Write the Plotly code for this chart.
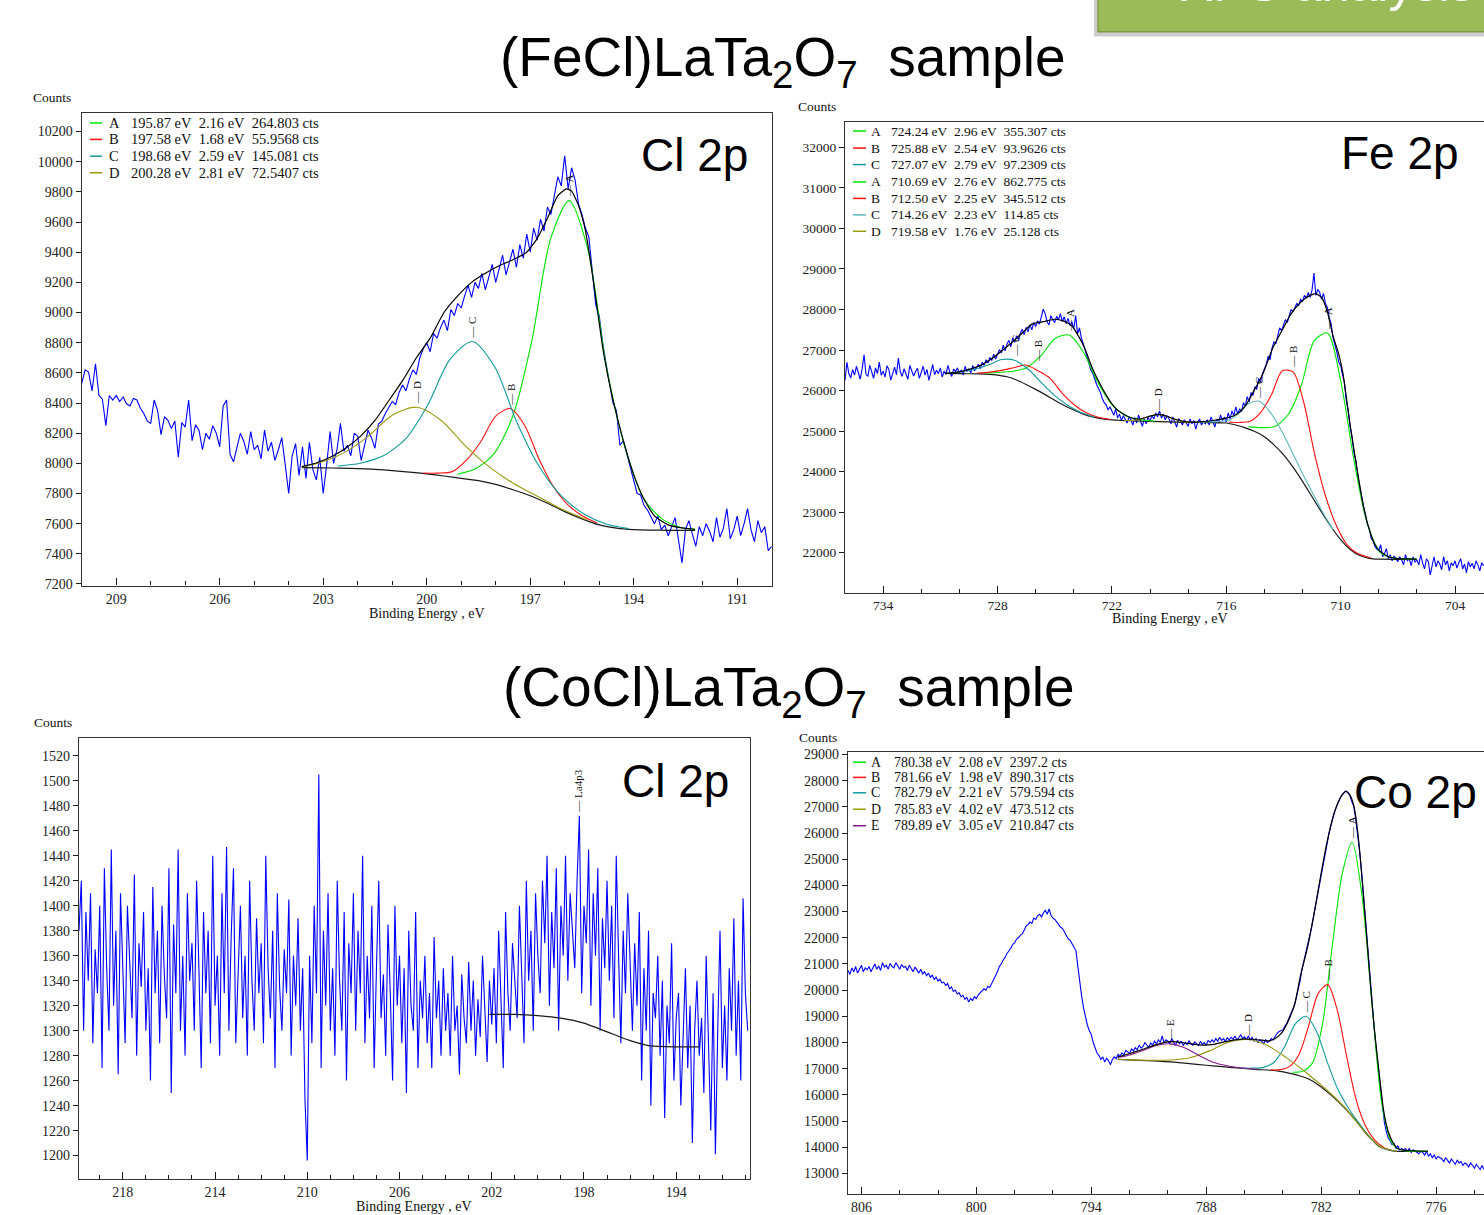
import plotly.graph_objects as go

W, H = 1484, 1215

# ---------------- (FeCl)LaTa2O7 : Cl 2p ----------------
cl_fe_be_start, cl_fe_be_step = 210.0, -0.1
cl_fe_counts = [
    8530, 8620, 8605, 8480, 8660, 8450, 8425, 8250, 8450, 8420,
    8450, 8410, 8440, 8395, 8380, 8430, 8420, 8365, 8330, 8280,
    8265, 8420, 8350, 8190, 8310, 8285, 8230, 8280, 8040, 8270,
    8240, 8420, 8150, 8255, 8220, 8090, 8200, 8160, 8250, 8200,
    8110, 8380, 8420, 8060, 8010, 8110, 8200, 8145, 8060, 8210,
    8090, 8120, 8030, 8220, 8080, 8140, 8020, 8090, 8170, 7990,
    7800, 8050, 8130, 7920, 8110, 7900, 8140, 7960, 7890, 8040,
    7800, 7990, 8210, 8000, 8090, 8265, 8080, 8120, 8050, 8200,
    8180, 8020, 8130, 8220, 8170, 8100, 8260, 8280, 8330, 8370,
    8410, 8390, 8470, 8520, 8480, 8560, 8620, 8590, 8700, 8760,
    8800, 8740, 8860, 8830, 8900, 8950, 8880, 9020, 8980, 9060,
    9030, 9110, 9180, 9100, 9200, 9160, 9260, 9150, 9230, 9320,
    9200, 9290, 9380, 9250, 9330, 9420, 9300, 9450, 9360, 9520,
    9400, 9560, 9480, 9620, 9540, 9700, 9650, 9790, 9900, 9840,
    10040, 9820, 9960, 9880, 9720, 9650, 9560, 9500, 9290, 9050,
    8980, 8800, 8660, 8540, 8400, 8350, 8120, 8150, 8060, 7980,
    7900, 7800, 7790, 7720, 7690, 7640, 7600, 7650, 7560, 7590,
    7520, 7580, 7640, 7490, 7340, 7560, 7620, 7530, 7450, 7580,
    7520, 7600, 7550, 7480, 7640, 7510, 7570, 7700, 7500, 7560,
    7650, 7520, 7600, 7700, 7560, 7480, 7620, 7540, 7580, 7420,
    7450]
cl_fe_bg_be = [203.62, 203.0, 202.5, 202.0, 201.5, 201.0, 200.5, 200.0, 199.5, 199.0, 198.5, 198.0,
               197.5, 197.0, 196.5, 196.0, 195.5, 195.0, 194.5, 194.0, 193.5, 193.0, 192.22]
cl_fe_bg = [7972, 7970, 7968, 7965, 7960, 7952, 7942, 7930, 7916, 7900, 7885, 7860,
            7825, 7785, 7735, 7680, 7632, 7592, 7570, 7560, 7557, 7556, 7556]
cl_fe_env_be = [203.62, 203.2, 202.71, 202.3, 201.9, 201.5, 201.1, 200.7, 200.3, 199.9,
                199.5, 199.1, 198.7, 198.3, 197.9, 197.5, 197.1, 196.8, 196.5, 196.2,
                195.95, 195.8, 195.6, 195.4, 195.17, 194.88, 194.6, 194.3, 194.0, 193.72,
                193.4, 193.0, 192.6, 192.22]
cl_fe_env = [7978, 8002, 8050, 8108, 8184, 8285, 8415, 8548, 8700, 8830,
             9000, 9110, 9200, 9260, 9310, 9350, 9400, 9490, 9625, 9775,
             9820, 9805, 9710, 9545, 9210, 8740, 8420, 8150, 7925, 7770,
             7652, 7592, 7572, 7563]
cl_fe_A_be = [199.11, 198.57, 198.03, 197.49, 196.95, 196.41, 195.87, 195.33, 194.79, 194.25, 193.71, 193.17, 192.63, 192.22]
cl_fe_A = [7928, 7965, 8069, 8322, 8817, 9488, 9742, 9420, 8640, 8105, 7767, 7630, 7575, 7562]
cl_fe_B_be = [200.1, 199.68, 199.26, 198.84, 198.42, 198.0, 197.58, 197.16, 196.74, 196.32, 195.9, 195.48, 195.06]
cl_fe_B = [7936, 7935, 7945, 8023, 8148, 8313, 8363, 8251, 8026, 7843, 7723, 7651, 7604]
cl_fe_C_be = [202.57, 201.92, 201.27, 200.62, 199.97, 199.33, 198.68, 198.03, 197.39, 196.74, 196.09, 195.44, 194.8, 194.15]
cl_fe_C = [7982, 8001, 8048, 8160, 8387, 8688, 8808, 8640, 8274, 7979, 7782, 7664, 7598, 7567]
cl_fe_D_be = [203.62, 203.09, 202.39, 201.69, 200.98, 200.28, 199.58, 198.87, 198.17, 197.47, 196.77, 196.06, 195.36]
cl_fe_D = [7975, 8005, 8071, 8180, 8322, 8372, 8284, 8114, 7973, 7865, 7779, 7693, 7625]
cl_fe_names = ["A", "B", "C", "D"]
cl_fe_pos = [195.87, 197.58, 198.68, 200.28]
cl_fe_fwhm = [2.16, 1.68, 2.59, 2.81]
cl_fe_area = ["264.803", "55.9568", "145.081", "72.5407"]

# ---------------- (FeCl)LaTa2O7 : Fe 2p ----------------
fe_be_start, fe_be_step = 736.0, -0.1
fe_counts = [
    26250, 26700, 26420, 26310, 26520, 26380, 26600, 26450, 26280, 26540,
    26880, 26400, 26350, 26620, 26470, 26300, 26560, 26420, 26700, 26380,
    26480, 26330, 26610, 26520, 26260, 26450, 26580, 26390, 26800, 26470,
    26350, 26540, 26430, 26280, 26620, 26500, 26360, 26470, 26550, 26300,
    26440, 26600, 26380, 26520, 26250, 26470, 26640, 26390, 26500, 26420,
    26560, 26330, 26480, 26400, 26620, 26450, 26350, 26530, 26470, 26560,
    26420, 26510, 26380, 26600, 26470, 26530, 26440, 26620, 26490, 26570,
    26650, 26540, 26700, 26620, 26760, 26680, 26820, 26740, 26900, 26780,
    26880, 27010, 26930, 27120, 26980, 27150, 27240, 27080, 27300, 27190,
    27350, 27260, 27420, 27510, 27380, 27560, 27450, 27620, 27500, 27680,
    27580, 27720, 27640, 27800, 28010, 27900, 27700, 27620, 27850, 27740,
    27680, 27830, 27750, 27900, 27700, 27820, 27650, 27780, 27600, 27700,
    27520, 27850, 27400, 27550, 27300, 27150, 27000, 26850, 26700, 26500,
    26420, 26250, 26150, 26050, 25950, 25800, 25700, 25650, 25520, 25600,
    25480, 25390, 25550, 25320, 25420, 25260, 25380, 25300, 25200, 25350,
    25280, 25150, 25330, 25200, 25400, 25250, 25120, 25300, 25180, 25350,
    25240, 25380, 25300, 25450, 25350, 25500, 25320, 25420, 25280, 25380,
    25300, 25180, 25350, 25220, 25100, 25310, 25250, 25150, 25280, 25200,
    25120, 25300, 25180, 25260, 25050, 25220, 25300, 25150, 25240, 25180,
    25280, 25150, 25350, 25230, 25100, 25300, 25200, 25400, 25260, 25350,
    25220, 25450, 25300, 25500, 25380, 25600, 25420, 25550, 25480, 25700,
    25620, 25850, 25720, 25950, 25880, 26100, 26030, 26300, 26200, 26420,
    26520, 26650, 26850, 26760, 27050, 27200, 27150, 27380, 27550, 27480,
    27600, 27750, 27680, 27850, 28000, 27950, 28050, 28150, 28100, 28250,
    28200, 28350, 28280, 28420, 28300, 28480, 28900, 28350, 28500, 28420,
    28250, 28400, 28150, 28050, 27800, 27650, 27300, 27150, 26950, 26700,
    26620, 26380, 26200, 25750, 25500, 25100, 24850, 24450, 24280, 23880,
    23600, 23400, 23150, 22950, 22700, 22600, 22350, 22300, 22150, 22080,
    22050, 22200, 21900, 21980, 22100, 21850, 21950, 21800, 21920, 21850,
    21780, 21900, 21820, 21700, 21950, 21800, 21850, 21680, 21900, 21770,
    21820, 21700, 21950, 21750, 21600, 21850, 21780, 21450, 21700, 21900,
    21650, 21800, 21720, 21580, 21900, 21700, 21800, 21550, 21750, 21680,
    21800, 21620, 21750, 21850, 21600, 21720, 21500, 21780, 21650, 21740,
    21600, 21800, 21700, 21550, 21750, 21680]
fe_bg_be = [730.76, 730.0, 729.0, 728.4, 728.0, 727.5, 727.0, 726.5, 726.0, 725.5,
            725.0, 724.5, 724.0, 723.5, 723.0, 722.5, 722.0, 721.5, 721.0, 720.5,
            720.0, 719.0, 718.0, 717.0, 716.0, 715.5, 715.0, 714.5, 714.0, 713.5,
            713.0, 712.5, 712.0, 711.5, 711.0, 710.5, 710.0, 709.5, 709.0, 708.5,
            708.0, 707.0, 706.02]
fe_bg = [26424, 26420, 26410, 26400, 26380, 26340, 26260, 26150, 26030, 25900,
         25760, 25630, 25520, 25420, 25350, 25300, 25275, 25262, 25255, 25246,
         25240, 25226, 25216, 25210, 25200, 25150, 25080, 24990, 24860, 24660,
         24420, 24110, 23760, 23380, 23000, 22640, 22320, 22080, 21930, 21860,
         21840, 21837, 21837]
fe_env_be = [730.76, 730.2, 729.4, 728.8, 728.2, 727.7, 727.2, 726.7, 726.2, 725.6,
             725.0, 724.55, 724.1, 723.7, 723.4, 723.15, 722.9, 722.63, 722.35, 722.1,
             721.8, 721.4, 721.0, 720.5, 720.0, 719.58, 719.1, 718.6, 718.0, 717.4,
             716.8, 716.2, 715.6, 715.3, 715.0, 714.6, 714.07, 713.54, 713.0, 712.67,
             712.3, 711.9, 711.6, 711.3, 711.0, 710.7, 710.4, 710.1, 709.88, 709.52,
             709.17, 708.82, 708.47, 708.2, 707.95, 707.5, 707.07, 706.5, 706.02]
fe_env = [26424, 26450, 26535, 26640, 26820, 27010, 27205, 27420, 27640, 27700,
          27760, 27720, 27600, 27300, 27020, 26700, 26420, 26170, 25930, 25740,
          25560, 25420, 25330, 25300, 25370, 25412, 25365, 25280, 25225, 25228,
          25255, 25300, 25380, 25470, 25620, 25950, 26424, 27072, 27550, 27844,
          28080, 28260, 28350, 28390, 28300, 27950, 27350, 26900, 26424, 25206,
          24150, 23176, 22528, 22200, 22041, 21900, 21861, 21845, 21840]
fe_A1_be = [728.68, 727.94, 727.2, 726.46, 725.72, 724.98, 724.24, 723.5, 722.76, 722.02, 721.28, 720.54, 719.8]
fe_A1 = [26432, 26447, 26475, 26572, 26860, 27285, 27370, 26950, 26225, 25670, 25380, 25280, 25245]
fe_B1_be = [729.06, 728.42, 727.79, 727.15, 726.52, 725.88, 725.25, 724.61, 723.98, 723.34, 722.71, 722.07]
fe_B1 = [26432, 26456, 26499, 26565, 26631, 26490, 26306, 25935, 25649, 25451, 25342, 25286]
fe_C1_be = [730.56, 729.86, 729.16, 728.47, 727.77, 727.07, 726.37, 725.68, 724.98, 724.28, 723.59, 722.9]
fe_C1 = [26441, 26465, 26525, 26635, 26765, 26742, 26520, 26185, 25868, 25627, 25454, 25347]
fe_A2_be = [714.83, 714.14, 713.45, 712.76, 712.07, 711.38, 710.69, 710.0, 709.31, 708.62, 707.93, 707.24, 706.55, 706.02]
fe_A2 = [25110, 25086, 25114, 25404, 26120, 27234, 27420, 26244, 24310, 22750, 22010, 21870, 21845, 21840]
fe_B2_be = [715.88, 715.31, 714.75, 714.19, 713.63, 713.06, 712.5, 711.94, 711.38, 710.81, 710.25, 709.69, 709.13, 708.4]
fe_B2 = [25225, 25214, 25245, 25464, 25895, 26488, 26460, 25718, 24465, 23424, 22695, 22214, 21985, 21870]
fe_C2_be = [717.6, 717.05, 716.49, 715.93, 715.38, 714.82, 714.26, 713.7, 713.15, 712.59, 712.03, 711.48, 710.92, 710.4]
fe_C2 = [25215, 25225, 25235, 25260, 25420, 25680, 25735, 25470, 25050, 24530, 23980, 23480, 22980, 22570]
fe_D2_be = [721.34, 720.9, 720.46, 720.02, 719.58, 719.14, 718.7, 718.26, 717.82]
fe_D2 = [25262, 25265, 25300, 25365, 25410, 25365, 25290, 25240, 25220]
fe_names = ["A", "B", "C", "A", "B", "C", "D"]
fe_pos = [724.24, 725.88, 727.07, 710.69, 712.50, 714.26, 719.58]
fe_fwhm = [2.96, 2.54, 2.79, 2.76, 2.25, 2.23, 1.76]
fe_area = ["355.307", "93.9626", "97.2309", "862.775", "345.512", "114.85", "25.128"]

# ---------------- (CoCl)LaTa2O7 : Cl 2p ----------------
cl_co_be_start, cl_co_be_step = 219.9, -0.1
cl_co_counts = [
    1380, 1420, 1300, 1395, 1340, 1410, 1290, 1365, 1330, 1400,
    1270, 1430, 1350, 1300, 1445, 1320, 1380, 1265, 1410, 1340,
    1290, 1400, 1360, 1310, 1425, 1280, 1370, 1335, 1395, 1300,
    1350, 1260, 1415, 1330, 1380, 1290, 1400, 1345, 1310, 1430,
    1250, 1385, 1330, 1445, 1300, 1360, 1280, 1410, 1340, 1370,
    1300, 1420, 1350, 1270, 1395, 1330, 1380, 1290, 1440, 1320,
    1360, 1280, 1410, 1330, 1447, 1300, 1375, 1430, 1290, 1350,
    1400, 1310, 1360, 1280, 1420, 1340, 1300, 1390, 1330, 1370,
    1290, 1440, 1350, 1310, 1380, 1270, 1410, 1335, 1300, 1365,
    1330, 1405, 1280, 1360, 1320, 1390, 1300, 1350, 1245, 1196,
    1360, 1290, 1400, 1330, 1505, 1270, 1380, 1320, 1410, 1300,
    1350, 1280, 1420, 1340, 1300, 1395, 1260, 1370, 1330, 1410,
    1300, 1380, 1330, 1440, 1290, 1360, 1310, 1400, 1270, 1350,
    1420, 1310, 1345, 1280, 1385, 1330, 1260, 1400, 1320, 1360,
    1290, 1350, 1250, 1380, 1320, 1300, 1395, 1270, 1340, 1310,
    1360, 1290, 1330, 1270, 1375, 1310, 1340, 1280, 1350, 1300,
    1330, 1280, 1360, 1300, 1320, 1265, 1345, 1310, 1290, 1355,
    1300, 1340, 1280, 1325, 1295, 1360, 1310, 1275, 1340, 1305,
    1350, 1290, 1380, 1320, 1270, 1395, 1330, 1300, 1370, 1340,
    1310, 1400, 1350, 1290, 1420, 1340, 1380, 1300, 1410, 1360,
    1330, 1420, 1370, 1440, 1320, 1395, 1350, 1430, 1300, 1400,
    1360, 1440, 1340, 1410, 1380, 1350, 1420, 1472, 1330, 1400,
    1370, 1445, 1320, 1410, 1360, 1430, 1300, 1390, 1350, 1420,
    1340, 1400, 1310, 1440, 1360, 1290, 1380, 1330, 1410, 1350,
    1300, 1370, 1320, 1395, 1260, 1350, 1300, 1380, 1240, 1330,
    1310, 1360, 1280, 1340, 1230, 1320, 1290, 1370, 1260, 1310,
    1330, 1240, 1300, 1350, 1270, 1320, 1210, 1300, 1340, 1280,
    1310, 1250, 1360, 1290, 1220, 1330, 1201, 1300, 1380, 1270,
    1320, 1260, 1350, 1300, 1390, 1280, 1340, 1260, 1406, 1330,
    1300]
cl_co_bg_be = [202.1, 201.0, 200.0, 199.0, 198.0, 197.0, 196.0, 195.2, 194.0, 193.0]
cl_co_bg = [1313, 1313, 1312, 1310, 1306, 1299, 1292, 1288, 1287, 1287]
cl_co_mark_be, cl_co_mark_counts, cl_co_mark_name = 198.24, 1472, "La4p3"

# ---------------- (CoCl)LaTa2O7 : Co 2p ----------------
co_be_start, co_be_step = 806.7, -0.1
co_counts = [
    20750, 20600, 20850, 20700, 20900, 20650, 20800, 20950, 20700, 20850,
    20780, 20900, 20700, 20850, 21000, 20800, 20920, 20750, 21050, 20880,
    20950, 20800, 21020, 20900, 20850, 21050, 20920, 20800, 20980, 20870,
    20900, 20750, 20950, 20820, 20700, 20880, 20760, 20650, 20800, 20620,
    20700, 20550, 20650, 20480, 20580, 20400, 20500, 20350, 20420, 20280,
    20300, 20180, 20250, 20050, 20120, 19950, 20000, 19850, 19900, 19750,
    19800, 19650, 19720, 19550, 19680, 19600, 19750, 19680, 19820, 19900,
    19950, 20050, 20000, 20150, 20100, 20250, 20350, 20500, 20700, 20900,
    21000, 21150, 21250, 21400, 21500, 21600, 21750, 21800, 21950, 22000,
    22100, 22150, 22300, 22450, 22500, 22600, 22550, 22750, 22700, 22850,
    22900, 22800, 22950, 23050, 22900, 23100, 22850, 22750, 22700, 22600,
    22500, 22400, 22350, 22200, 22100, 21950, 21900, 21750, 21650, 21500,
    20900, 20250, 19750, 19300, 18950, 18650, 18450, 18300, 18000, 17750,
    17600, 17500, 17350, 17450, 17250, 17400, 17300, 17150, 17350, 17450,
    17380, 17550, 17480, 17600, 17520, 17700, 17650, 17580, 17750, 17680,
    17800, 17720, 17900, 17780, 17850, 18000, 17900, 17820, 17980, 17900,
    18050, 17950, 18100, 18000, 18250, 17980, 18100, 18050, 17950, 18150,
    18000, 17900, 18080, 17950, 18050, 17880, 18000, 17920, 18060, 17950,
    17900, 18020, 17950, 17880, 18050, 17930, 18000, 17900, 18080, 18000,
    18100, 18020, 18150, 18050, 18200, 18080, 18150, 18050, 18180, 18100,
    18200, 18120, 18250, 18100, 18180, 18300, 18150, 18220, 18100, 18250,
    18100, 18200, 18050, 18150, 18000, 18100, 18050, 17950, 18100, 18000,
    18050, 18150, 18100, 18250, 18350, 18420, 18450, 18480, 18620, 18720,
    18900, 19050, 19250, 19400, 19700, 20000, 20350, 20800, 21100, 21450,
    21700, 22050, 22400, 22800, 23200, 23600, 24000, 24400, 24800, 25150,
    25600, 25950, 26250, 26550, 26800, 27000, 27200, 27350, 27480, 27550,
    27600, 27550, 27430, 27200, 27020, 26550, 26000, 25350, 24600, 23650,
    22700, 21850, 20900, 19950, 19150, 18300, 17550, 16900, 16000, 15400,
    14950, 14600, 14350, 14250, 14100, 14150, 13950, 14050, 13900, 13950,
    13900, 13950, 13850, 13950, 13800, 13900, 13850, 13800, 13750, 13850,
    13800, 13700, 13850, 13650, 13750, 13600, 13700, 13550, 13650, 13600,
    13550, 13450, 13600, 13500, 13400, 13550, 13450, 13350, 13500, 13400,
    13450, 13300, 13400, 13350, 13250, 13400, 13300, 13200, 13350, 13250,
    13150, 13300, 13150]
co_bg_be = [792.62, 791.5, 790.5, 789.84, 789.0, 788.0, 787.0, 786.6, 785.5, 784.3,
            783.5, 783.14, 782.5, 781.98, 781.5, 780.82, 780.2, 779.67, 779.3, 778.97,
            778.5, 778.05, 777.0, 776.43]
co_bg = [17358, 17320, 17285, 17256, 17200, 17130, 17065, 17041, 16975, 16917,
         16800, 16729, 16550, 16289, 16000, 15535, 15030, 14531, 14250, 14028,
         13900, 13840, 13840, 13840]
co_env_be = [792.62, 792.2, 791.7, 791.23, 790.6, 789.84, 789.2, 788.6, 788.22, 787.6,
             787.0, 786.6, 786.0, 785.45, 785.0, 784.75, 784.4, 784.05, 783.7, 783.37,
             783.07, 782.72, 782.38, 782.03, 781.68, 781.33, 781.0, 780.72, 780.5, 780.29,
             780.1, 779.94, 779.77, 779.59, 779.42, 779.25, 779.0, 778.74, 778.5, 778.27,
             778.0, 777.7, 777.0, 776.43]
co_env = [17440, 17530, 17650, 17760, 17920, 18030, 17990, 17930, 17900, 17930,
          18030, 18090, 18140, 18115, 18080, 18060, 18150, 18380, 18850, 19500,
          20580, 21600, 22880, 24350, 25700, 26750, 27350, 27600, 27450, 27030,
          26100, 24900, 23400, 21750, 20150, 18700, 17000, 15400, 14600, 14200,
          13940, 13885, 13855, 13845]
co_A_be = [783.5, 782.98, 782.46, 781.94, 781.42, 780.9, 780.38, 779.86, 779.34, 778.82, 778.3, 777.78, 777.26, 776.43]
co_A = [16863, 16898, 17212, 18662, 21686, 24447, 25650, 23557, 19400, 15600, 14150, 13880, 13850, 13845]
co_B_be = [784.63, 784.14, 783.64, 783.15, 782.65, 782.16, 781.66, 781.17, 780.67, 780.18, 779.68, 779.19, 778.69, 778.05]
co_B = [16955, 16962, 17087, 17550, 18650, 19865, 20210, 19265, 17470, 15830, 14807, 14262, 13975, 13845]
co_C_be = [786.1, 785.55, 785.0, 784.45, 783.9, 783.34, 782.79, 782.24, 781.69, 781.13, 780.58, 780.03, 779.47, 778.9, 778.05]
co_C = [17020, 17020, 17050, 17255, 17850, 18720, 19000, 18420, 17270, 16210, 15500, 14925, 14405, 14010, 13845]
co_D_be = [792.62, 791.86, 790.86, 789.85, 788.85, 787.84, 786.84, 785.83, 784.83, 783.82, 782.82, 781.81, 780.81, 779.8, 778.9, 778.05]
co_D = [17362, 17337, 17320, 17329, 17414, 17680, 18007, 18115, 17897, 17420, 16874, 16253, 15552, 14657, 14010, 13845]
co_E_be = [792.62, 792.18, 791.42, 790.65, 789.89, 789.13, 788.37, 787.6, 786.84, 786.08, 785.31]
co_E = [17434, 17483, 17663, 17877, 17948, 17797, 17500, 17233, 17100, 17024, 16972]
co_names = ["A", "B", "C", "D", "E"]
co_pos = [780.38, 781.66, 782.79, 785.83, 789.89]
co_fwhm = [2.08, 1.98, 2.21, 4.02, 3.05]
co_area = ["2397.2", "890.317", "579.594", "473.512", "210.847"]

# ---------------- styling ----------------
SERIF = "Liberation Serif, Times New Roman, serif"
SANS = "Liberation Sans, Arial, sans-serif"
GREEN, RED, TEAL, TEAL_L, OLIVE, PURPLE = "#00e400", "#ff1010", "#119a9a", "#5cb8b8", "#9a9a10", "#8a1a8a"
DATA_BLUE = "#0000ff"
INK = "#1a1a1a"


def fx(p):
    return p / W


def fy(p):
    return 1 - p / H


def be_grid(start, step, n):
    return [round(start + step * i, 3) for i in range(n)]


fig = go.Figure()
annotations = []
shapes = []


def add_spectrum(sfx, counts, start, step, bg_be, bg, comps, env_be, env):
    xr, yr = "x" + sfx, "y" + sfx
    fig.add_trace(go.Scatter(x=be_grid(start, step, len(counts)), y=counts, mode="lines",
                             line=dict(color=DATA_BLUE, width=1.1), xaxis=xr, yaxis=yr,
                             showlegend=False, hoverinfo="skip"))
    if bg_be:
        fig.add_trace(go.Scatter(x=bg_be, y=bg, mode="lines",
                                 line=dict(color=INK, width=1.2, shape="spline", smoothing=0.6),
                                 xaxis=xr, yaxis=yr, showlegend=False, hoverinfo="skip"))
    for cbe, cy, col, name, pos in comps:
        fig.add_trace(go.Scatter(x=cbe, y=cy, mode="lines",
                                 line=dict(color=col, width=1.1, shape="spline", smoothing=0.8),
                                 xaxis=xr, yaxis=yr, showlegend=False, hoverinfo="skip"))
        annotations.append(dict(x=pos, y=max(cy), xref=xr, yref=yr, text="\u2014\u00a0" + name,
                                textangle=-90, showarrow=False, xanchor="center", yanchor="bottom",
                                yshift=1, font=dict(family=SERIF, size=11, color="#111")))
    if env_be:
        fig.add_trace(go.Scatter(x=env_be, y=env, mode="lines",
                                 line=dict(color="#000000", width=1.2, shape="spline", smoothing=0.5),
                                 xaxis=xr, yaxis=yr, showlegend=False, hoverinfo="skip"))


add_spectrum("", cl_fe_counts, cl_fe_be_start, cl_fe_be_step, cl_fe_bg_be, cl_fe_bg,
             [(cl_fe_A_be, cl_fe_A, GREEN, "A", cl_fe_pos[0]),
              (cl_fe_B_be, cl_fe_B, RED, "B", cl_fe_pos[1]),
              (cl_fe_C_be, cl_fe_C, TEAL, "C", cl_fe_pos[2]),
              (cl_fe_D_be, cl_fe_D, OLIVE, "D", cl_fe_pos[3])],
             cl_fe_env_be, cl_fe_env)
add_spectrum("2", fe_counts, fe_be_start, fe_be_step, fe_bg_be, fe_bg,
             [(fe_A1_be, fe_A1, GREEN, "A", fe_pos[0]),
              (fe_B1_be, fe_B1, RED, "B", fe_pos[1]),
              (fe_C1_be, fe_C1, TEAL, "C", fe_pos[2]),
              (fe_A2_be, fe_A2, GREEN, "A", fe_pos[3]),
              (fe_B2_be, fe_B2, RED, "B", fe_pos[4]),
              (fe_C2_be, fe_C2, TEAL_L, "C", fe_pos[5]),
              (fe_D2_be, fe_D2, OLIVE, "D", fe_pos[6])],
             fe_env_be, fe_env)
add_spectrum("3", cl_co_counts, cl_co_be_start, cl_co_be_step, cl_co_bg_be, cl_co_bg, [], None, None)
add_spectrum("4", co_counts, co_be_start, co_be_step, co_bg_be, co_bg,
             [(co_A_be, co_A, GREEN, "A", co_pos[0]),
              (co_B_be, co_B, RED, "B", co_pos[1]),
              (co_C_be, co_C, TEAL, "C", co_pos[2]),
              (co_D_be, co_D, OLIVE, "D", co_pos[3]),
              (co_E_be, co_E, PURPLE, "E", co_pos[4])],
             co_env_be, co_env)

annotations.append(dict(x=cl_co_mark_be, y=cl_co_mark_counts, xref="x3", yref="y3",
                        text="\u2014\u00a0" + cl_co_mark_name, textangle=-90, showarrow=False,
                        xanchor="center", yanchor="bottom", yshift=1,
                        font=dict(family=SERIF, size=11, color="#111")))


def axes(sfx, xdom, ydom, xr, yr, xt0, xdt, xminor, yt0, ydt, right_frame, fsize):
    anchor_x, anchor_y = "y" + sfx, "x" + sfx
    tickfont = dict(family=SERIF, size=fsize, color="#222")
    xa = dict(domain=xdom, range=xr, anchor=anchor_x, tick0=xt0, dtick=xdt,
              ticks="inside", ticklen=7, tickwidth=1.2, tickcolor=INK,
              minor=dict(ticks="inside", ticklen=4, tickwidth=1, tickcolor=INK, dtick=xminor, tick0=xt0),
              showline=True, mirror=True, linecolor="#333", linewidth=1.3,
              showgrid=False, zeroline=False, tickfont=tickfont, tickformat="d")
    ya = dict(domain=ydom, range=yr, anchor=anchor_y, tick0=yt0, dtick=ydt,
              ticks="outside", ticklen=5, tickwidth=1.2, tickcolor=INK,
              showline=True, mirror=right_frame, linecolor="#333", linewidth=1.3,
              showgrid=False, zeroline=False, tickfont=tickfont, tickformat="d")
    return xa, ya


x1, y1 = axes("", [fx(81.7), fx(771.7)], [fy(588.3), fy(109.3)], [210, 190], [7189.5, 10324],
              191, 3, 1, 7200, 200, True, 14)
x2, y2 = axes("2", [fx(845), 1.0], [fy(595.7), fy(118.3)], [736.0, 702.48], [21009, 32633],
              704, 6, 2, 22000, 1000, False, 13.5)
x3, y3 = axes("3", [fx(79), fx(750)], [fy(1190), fy(743)], [219.9, 190.8], [1181, 1534],
              194, 4, 1, 1200, 20, True, 14)
x4, y4 = axes("4", [fx(848), 1.0], [fy(1205), fy(757)], [806.7, 773.5], [12208, 29094],
              776, 6, 2, 13000, 1000, False, 14)


def txt(x, y, text, size, family=SERIF, xanchor="center", yanchor="middle", color="#111"):
    annotations.append(dict(x=fx(x), y=fy(y), xref="paper", yref="paper", text=text,
                            showarrow=False, xanchor=xanchor, yanchor=yanchor,
                            font=dict(family=family, size=size, color=color)))


# axis captions
for cx, cy in [(52, 94), (817, 103), (53, 727), (818, 742)]:
    txt(cx, cy, "Counts", 13.5)
for cx, cy in [(427, 617), (1170, 622), (414, 1218)]:
    txt(cx, cy, "Binding Energy , eV", 14)


# fitted-peak tables
def peak_table(names, pos, fwhm, area, colors, rows_y, line_x0, line_x1, letter_x, text_x, fsize):
    for name, p, w, a, col, ry in zip(names, pos, fwhm, area, colors, rows_y):
        shapes.append(dict(type="line", xref="paper", yref="paper", x0=fx(line_x0), x1=fx(line_x1),
                           y0=fy(ry), y1=fy(ry), line=dict(color=col, width=1.5)))
        txt(letter_x, ry, name, fsize, xanchor="left")
        txt(text_x, ry, f"{p:.2f} eV\u00a0\u00a0{w:.2f} eV\u00a0\u00a0{a} cts", fsize, xanchor="left")


peak_table(cl_fe_names, cl_fe_pos, cl_fe_fwhm, cl_fe_area, [GREEN, RED, TEAL, OLIVE],
           [119.5, 136.2, 153.2, 170.0], 90, 102, 107, 129, 14.5)
peak_table(fe_names, fe_pos, fe_fwhm, fe_area, [GREEN, RED, TEAL, GREEN, RED, TEAL_L, OLIVE],
           [127.7, 145.0, 161.7, 179.3, 196.0, 212.7, 229.3], 853, 866, 869, 889, 13.5)
peak_table(co_names, co_pos, co_fwhm, co_area, [GREEN, RED, TEAL, OLIVE, PURPLE],
           [767.3, 782.7, 798.3, 815.0, 831.7], 853, 866, 869, 892, 13.9)

# element labels
txt(694, 152, "Cl 2p", 46, family=SANS, color="#000")
txt(1400, 150, "Fe 2p", 46, family=SANS, color="#000")
txt(675, 786, "Cl 2p", 46, family=SANS, color="#000")
txt(1415, 797, "Co 2p", 46, family=SANS, color="#000")

# sample titles
txt(783, 57, "(FeCl)LaTa<sub>2</sub>O<sub>7</sub>\u00a0\u00a0sample", 55, family=SANS, color="#000")
txt(789, 695, "(CoCl)LaTa<sub>2</sub>O<sub>7</sub>\u00a0\u00a0sample", 55, family=SANS, color="#000")

# header tab in the corner
shapes.append(dict(type="rect", xref="paper", yref="paper", x0=fx(1094), x1=fx(1500), y0=fy(32), y1=fy(-20),
                   fillcolor="rgba(0,0,0,0.2)", line=dict(width=0), layer="below"))
shapes.append(dict(type="rect", xref="paper", yref="paper", x0=fx(1098), x1=fx(1500), y0=fy(27), y1=fy(-20),
                   fillcolor="#9bbb59", line=dict(color="#7e9c45", width=1.5), layer="below"))
txt(1178, 9, "XPS analysis", 50, family=SANS, xanchor="left", yanchor="bottom", color="#ffffff")

fig.update_layout(
    width=W, height=H, margin=dict(l=0, r=0, t=0, b=0),
    paper_bgcolor="white", plot_bgcolor="white", showlegend=False,
    xaxis=x1, yaxis=y1, xaxis2=x2, yaxis2=y2, xaxis3=x3, yaxis3=y3, xaxis4=x4, yaxis4=y4,
    annotations=annotations, shapes=shapes,
)

fig.write_html("out.html")
